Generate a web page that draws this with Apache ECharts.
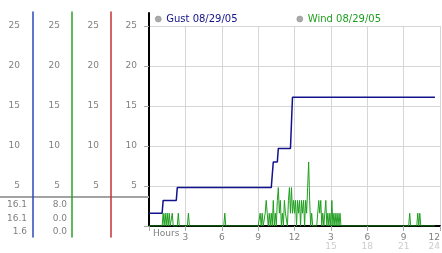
<!DOCTYPE html>
<html><head><meta charset="utf-8">
<script src="https://cdn.jsdelivr.net/npm/echarts@6/dist/echarts.min.js"></script>
<style>html,body{margin:0;padding:0;background:#fff}#c{width:442px;height:253px}</style>
</head><body><div id="c"></div>
<script>
// ---- data ----
const seriesNames = ['Gust 08/29/05', 'Wind 08/29/05'];
const gustMinutes = [0, 65, 70, 135, 140, 605, 610, 615, 635, 640, 700, 705, 710, 1415];
const gustValues  = [1.6, 1.6, 3.2, 3.2, 4.8, 4.8, 6.4, 8.0, 8.0, 9.7, 9.7, 12.9, 16.1, 16.1];
const windMinutes = [0,
  65, 70, 75, 80, 85, 90, 95, 100, 105, 110, 115, 120,
  140, 145, 150, 190, 195, 200, 370, 375, 380,
  540, 545, 550, 555, 560, 565, 570, 575, 580, 585, 590, 595, 600, 605, 610, 615, 620, 625, 630,
  635, 640, 645, 650, 655, 660, 665, 670, 675, 680, 685, 690, 695, 700, 705, 710, 715, 720, 725,
  730, 735, 740, 745, 750, 755, 760, 765, 770, 775, 780, 785, 790, 795, 800, 805, 810,
  830, 835, 840, 845, 850, 855, 860, 865, 870, 875, 880, 885, 890, 895, 900, 905, 910, 915, 920,
  925, 930, 935, 940, 945, 950,
  1285, 1290, 1295, 1325, 1330, 1335, 1340, 1345, 1415];
const windValues = [0,
  0, 1.6, 0, 1.6, 0, 1.6, 0, 1.6, 0, 0, 1.6, 0,
  0, 1.6, 0, 0, 1.6, 0, 0, 1.6, 0,
  0, 0, 1.6, 0, 1.6, 0, 0, 1.6, 3.2, 1.6, 0, 1.6, 0, 1.6, 0, 3.2, 0, 1.6, 0,
  3.2, 4.8, 1.6, 3.2, 0, 1.6, 0, 3.2, 1.6, 1.6, 0, 3.2, 4.8, 1.6, 4.8, 1.6, 3.2, 1.6, 3.2,
  0, 3.2, 1.6, 3.2, 0, 3.2, 1.6, 3.2, 0, 3.2, 1.6, 4.8, 8.0, 3.2, 0, 1.6, 0,
  0, 1.6, 3.2, 1.6, 3.2, 0, 1.6, 0, 1.6, 3.2, 0, 1.6, 0, 1.6, 0, 3.2, 0, 1.6, 0,
  1.6, 0, 1.6, 0, 1.6, 0,
  0, 1.6, 0, 0, 1.6, 0, 1.6, 0, 0];
const xRowOne = ['', '3', '6', '9', '12', '3', '6', '9', '12'];
const xRowTwo = ['', '', '', '', '', '15', '18', '21', '24'];
const yLabels = ['', '5', '10', '15', '20', '25'];

// ---- chart ----
const FONT = 'DejaVu Sans';
const GUST = '#12128c', WIND = '#1f9f1f', LABEL = '#808080', GRIDC = '#d6d6d6';
const chart = echarts.init(document.getElementById('c'), null, {renderer: 'canvas'});
const fmtY = v => { const i = Math.round(v / 5); return (Math.abs(v - i * 5) < 1e-6 && yLabels[i]) ? yLabels[i] : ''; };
const fmtX = v => {
  const i = Math.round(v / 3);
  if (Math.abs(v - i * 3) > 1e-6 || !xRowOne[i]) return '';
  return xRowTwo[i] ? '{a|' + xRowOne[i] + '}\n{b|' + xRowTwo[i] + '}' : '{a|' + xRowOne[i] + '}';
};
const cols = [
  {offset: 116, color: '#2a4ab8', margin: 13},
  {offset: 77, color: '#2aa02a', margin: 12},
  {offset: 38, color: '#c83030', margin: 12}
];
const yAxes = [{
  gridIndex: 0, type: 'value', min: 0, max: 25, interval: 5, position: 'left',
  axisLine: {show: false, onZero: false},
  axisTick: {show: true, length: 5, lineStyle: {color: '#aaaaaa'}},
  axisLabel: {margin: 12, color: LABEL, fontSize: 9, fontFamily: FONT, formatter: fmtY},
  splitLine: {show: true, lineStyle: {color: GRIDC, width: 1}}
}];
cols.forEach(c => yAxes.push({
  gridIndex: 0, type: 'value', min: 0, max: 25, interval: 5, position: 'left', offset: c.offset,
  axisLine: {show: false, onZero: false}, axisTick: {show: false}, splitLine: {show: false},
  axisLabel: {margin: c.margin, color: LABEL, fontSize: 9, fontFamily: FONT, formatter: fmtY}
}));
cols.forEach(c => yAxes.push({
  gridIndex: 1, type: 'value', min: 0, max: 1, position: 'left', offset: c.offset, z: 6,
  axisLine: {show: true, onZero: false, lineStyle: {color: c.color, width: 1.5, opacity: 1}},
  axisTick: {show: false}, axisLabel: {show: false}, splitLine: {show: false}
}));
yAxes.push({
  gridIndex: 2, type: 'value', min: 0, max: 1, position: 'left', offset: 0,
  axisLine: {show: true, onZero: false, lineStyle: {color: '#000', width: 2}},
  axisTick: {show: false}, axisLabel: {show: false}, splitLine: {show: false}
});

const stats = vals => [Math.max(...vals), vals[vals.length - 1], Math.min(...vals)].map(v => v.toFixed(1));
const gustStats = stats(gustValues), windStats = stats(windValues);
const rowsY = [205, 218.5, 232];
const graphics = [{type: 'rect', shape: {x: 0, y: 196, width: 149, height: 2}, style: {fill: '#a3a3a3'}, z: 5}];
[[gustStats, 27], [windStats, 67]].forEach(([st, x]) => st.forEach((t, i) => graphics.push({
  type: 'text', x: x, y: rowsY[i],
  style: {text: t, align: 'right', verticalAlign: 'middle', fontSize: 9, fontFamily: FONT, fill: LABEL}
})));

const gridBase = {left: 149, right: 2, outerBoundsMode: 'none', containLabel: false};
chart.setOption({
  animation: false,
  textStyle: {fontFamily: FONT},
  grid: [
    Object.assign({top: 26, bottom: 27}, gridBase),
    Object.assign({top: 12, bottom: 16}, gridBase),
    Object.assign({top: 13, bottom: 27}, gridBase)
  ],
  legend: {
    left: 155, top: 14, padding: 0, itemWidth: 6, itemHeight: 6, itemGap: 59, icon: 'circle',
    textStyle: {fontSize: 10, fontFamily: FONT},
    data: [
      {name: seriesNames[0], itemStyle: {color: '#aaaaaa', borderColor: '#888', borderWidth: 0.5}, textStyle: {color: GUST}},
      {name: seriesNames[1], itemStyle: {color: '#aaaaaa', borderColor: '#888', borderWidth: 0.5}, textStyle: {color: WIND}}
    ]
  },
  xAxis: [{
    gridIndex: 0, type: 'value', min: 0, max: 24, interval: 3,
    axisLine: {show: true, onZero: false, lineStyle: {color: '#000', width: 2}},
    axisTick: {show: true, length: 5, lineStyle: {color: '#aaaaaa'}},
    axisLabel: {margin: 7, formatter: fmtX, alignMaxLabel: 'right', rich: {
      a: {color: LABEL, fontSize: 9, lineHeight: 9, fontFamily: FONT},
      b: {color: '#cccccc', fontSize: 9, lineHeight: 9, fontFamily: FONT}
    }},
    splitLine: {show: true, lineStyle: {color: GRIDC, width: 1}},
    name: 'Hours', nameLocation: 'start', nameGap: -4, nameMoveOverlap: false,
    nameTextStyle: {align: 'left', verticalAlign: 'top', padding: [3, 0, 0, 0], color: LABEL, fontSize: 9, fontFamily: FONT}
  },
  {gridIndex: 1, type: 'value', min: 0, max: 1, show: false},
  {gridIndex: 2, type: 'value', min: 0, max: 1, show: false}],
  yAxis: yAxes,
  series: [
    {type: 'line', name: seriesNames[0], xAxisIndex: 0, yAxisIndex: 0, symbol: 'none', z: 3,
     data: gustMinutes.map((m, i) => [m / 60, gustValues[i]]),
     lineStyle: {color: GUST, width: 1.5}, itemStyle: {color: GUST}},
    {type: 'line', name: seriesNames[1], xAxisIndex: 0, yAxisIndex: 0, symbol: 'none', z: 4,
     data: windMinutes.map((m, i) => [m / 60, windValues[i]]),
     lineStyle: {color: WIND, width: 1}, itemStyle: {color: WIND}}
  ],
  graphic: graphics
});
</script></body></html>
